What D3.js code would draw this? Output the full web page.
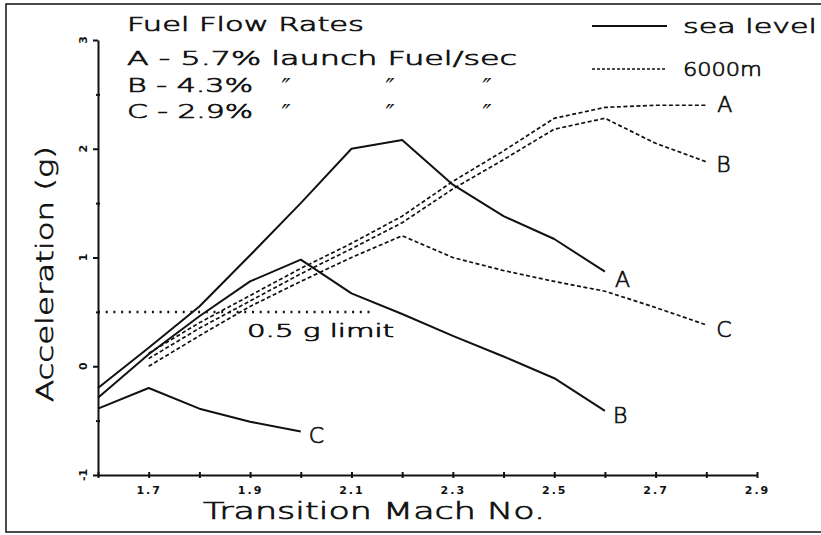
<!DOCTYPE html>
<html>
<head>
<meta charset="utf-8">
<script src="https://cdn.jsdelivr.net/npm/d3@7"></script>
<style>
  html, body { margin: 0; padding: 0; background: #fff; }
  svg { display: block; }
  text { font-family: "DejaVu Sans", sans-serif; fill: #111; }
  text.thin { font-weight: 200; stroke: #111; stroke-width: 0.7px; }
</style>
</head>
<body>
<svg id="chart" width="821" height="535"></svg>
<script>
// Transition Mach number (x) for each curve
const machSea = [1.6, 1.7, 1.8, 1.9, 2.0, 2.1, 2.2, 2.3, 2.4, 2.5, 2.6];
const machSeaC = [1.6, 1.7, 1.8, 1.9, 2.0];
const mach6000 = [1.7, 1.8, 1.9, 2.0, 2.1, 2.2, 2.3, 2.4, 2.5, 2.6, 2.7, 2.8];

// Acceleration (g), sea level
const seaA = [-0.2, 0.17, 0.55, 1.02, 1.5, 2.0, 2.08, 1.67, 1.38, 1.17, 0.87];
const seaB = [-0.29, 0.11, 0.46, 0.78, 0.98, 0.67, 0.48, 0.28, 0.09, -0.11, -0.41];
const seaC = [-0.39, -0.2, -0.39, -0.51, -0.6];

// Acceleration (g), 6000 m
const altA = [0.12, 0.4, 0.65, 0.9, 1.13, 1.38, 1.7, 1.98, 2.28, 2.38, 2.4, 2.4];
const altB = [0.07, 0.35, 0.6, 0.85, 1.08, 1.32, 1.63, 1.9, 2.18, 2.28, 2.05, 1.88];
const altC = [0.0, 0.28, 0.55, 0.78, 1.0, 1.2, 1.0, 0.88, 0.78, 0.69, 0.54, 0.38];

// 0.5 g limit
const limitValue = 0.5;
const limitMach = [1.6, 2.14];

// Axes
const xDomain = [1.6, 2.9];
const yDomain = [-1, 3];
const xTickLabels = ["1.7", "1.9", "2.1", "2.3", "2.5", "2.7", "2.9"];
const yTickLabels = ["-1", "0", "1", "2", "3"];
const xMinorTicks = [1.6, 1.7, 1.8, 1.9, 2.0, 2.1, 2.2, 2.3, 2.4, 2.5, 2.6, 2.7, 2.8, 2.9];
const yMinorTicks = [-0.5, 0.5, 1.5, 2.5];

// Legend text
const legendTitle = "Fuel Flow Rates";
const rateRows = ["A - 5.7% launch Fuel/sec", "B - 4.3%", "C - 2.9%"];
const altitudeNames = ["sea level", "6000m"];

const svg = d3.select("#chart");
const W = 821, H = 535;

const x = d3.scaleLinear().domain(xDomain).range([98, 757]);
const y = d3.scaleLinear().domain(yDomain).range([475, 40]);

// stretch a text to a fixed width, widening its glyphs
function fit(sel, len) {
  return sel.attr("class", "thin").attr("textLength", len).attr("lengthAdjust", "spacingAndGlyphs");
}

// outer frame
svg.append("rect")
  .attr("x", 6).attr("y", 4).attr("width", W + 4).attr("height", 528)
  .attr("fill", "none").attr("stroke", "#111").attr("stroke-width", 1.5);

// x axis: small ticks at every 0.1
const gx = svg.append("g").attr("transform", `translate(0,${y(yDomain[0])})`);
gx.call(d3.axisBottom(x).tickValues(xMinorTicks).tickSize(3).tickSizeOuter(0).tickFormat(""));
gx.select(".domain").attr("stroke", "#111").attr("stroke-width", 2);
gx.selectAll(".tick line").attr("stroke", "#111").attr("stroke-width", 2).attr("y1", -3);

// x tick labels
const gxl = svg.append("g").attr("transform", `translate(0,${y(yDomain[0])})`);
gxl.call(d3.axisBottom(x).tickValues(xTickLabels.map(Number)).tickSize(0)
  .tickFormat((d, i) => xTickLabels[i]));
gxl.select(".domain").remove();
gxl.selectAll(".tick text")
  .attr("y", 19).attr("dy", 0)
  .style("font-family", "'DejaVu Sans', sans-serif")
  .style("font-size", "11px").style("font-weight", "bold")
  .style("letter-spacing", "2px").attr("fill", "#111");

// y axis
const gy = svg.append("g").attr("transform", `translate(${x(xDomain[0])},0)`);
gy.call(d3.axisLeft(y).tickValues(yTickLabels.map(Number)).tickSize(5).tickSizeOuter(0).tickFormat(""));
gy.select(".domain").attr("stroke", "#111").attr("stroke-width", 2);
gy.selectAll(".tick line").attr("stroke", "#111").attr("stroke-width", 2);
const gym = svg.append("g").attr("transform", `translate(${x(xDomain[0])},0)`);
gym.call(d3.axisLeft(y).tickValues(yMinorTicks).tickSize(2).tickFormat(""));
gym.select(".domain").remove();
gym.selectAll(".tick line").attr("stroke", "#111").attr("stroke-width", 2).attr("x2", 2).attr("x1", -2);

// y tick labels, rotated
svg.append("g").selectAll("text").data(yTickLabels).join("text")
  .attr("transform", d => `translate(87,${y(+d)}) rotate(-90)`)
  .attr("text-anchor", "middle")
  .style("font-size", "11px").style("font-weight", "bold")
  .text(d => d);

// axis titles
fit(svg.append("text")
  .attr("x", 374).attr("y", 519).attr("text-anchor", "middle")
  .style("font-size", "23px")
  .text("Transition Mach No."), 342);
fit(svg.append("text")
  .attr("transform", "translate(53,274) rotate(-90)")
  .attr("text-anchor", "middle")
  .style("font-size", "23px")
  .text("Acceleration (g)"), 256);

// curves
const line = d3.line().x(d => x(d[0])).y(d => y(d[1]));
const series = [
  { mach: machSea, val: seaA, label: "A", dashed: false, off: [10, 15] },
  { mach: machSea, val: seaB, label: "B", dashed: false, off: [8, 12] },
  { mach: machSeaC, val: seaC, label: "C", dashed: false, off: [8, 11] },
  { mach: mach6000, val: altA, label: "A", dashed: true, off: [11, 7] },
  { mach: mach6000, val: altB, label: "B", dashed: true, off: [10, 10] },
  { mach: mach6000, val: altC, label: "C", dashed: true, off: [10, 12] }
];

series.forEach(s => {
  const pts = s.mach.map((m, i) => [m, s.val[i]]);
  svg.append("path")
    .attr("d", line(pts))
    .attr("fill", "none")
    .attr("stroke", "#111")
    .attr("stroke-width", s.dashed ? 1.7 : 2)
    .attr("stroke-linejoin", "round")
    .attr("stroke-dasharray", s.dashed ? "4 2.5" : null);
  const last = pts[pts.length - 1];
  svg.append("text")
    .attr("class", "thin")
    .attr("x", x(last[0]) + s.off[0])
    .attr("y", y(last[1]) + s.off[1])
    .style("font-size", "22px")
    .text(s.label);
});

// 0.5 g limit
svg.append("line")
  .attr("x1", x(limitMach[0])).attr("x2", x(limitMach[1]))
  .attr("y1", y(limitValue)).attr("y2", y(limitValue))
  .attr("stroke", "#111").attr("stroke-width", 2.5)
  .attr("stroke-dasharray", "2 5.7");
fit(svg.append("text")
  .attr("x", 247).attr("y", 337)
  .style("font-size", "17px")
  .text("0.5 g limit"), 147);

// fuel flow legend
fit(svg.append("text")
  .attr("x", 127).attr("y", 31)
  .style("font-size", "19px")
  .text(legendTitle), 237);
const rowY = [65, 92, 118];
const rowLen = [390, 126, 126];
rateRows.forEach((r, i) => {
  fit(svg.append("text")
    .attr("x", 127).attr("y", rowY[i])
    .style("font-size", "19px")
    .text(r), rowLen[i]);
});
// ditto marks under "launch Fuel/sec"
[1, 2].forEach(i => {
  [286, 390, 487].forEach(cx => {
    svg.append("text")
      .attr("x", cx).attr("y", rowY[i] + 4)
      .attr("text-anchor", "middle")
      .style("font-size", "24px").style("font-style", "italic")
      .text("\u2033");
  });
});

// altitude legend
const altY = [26, 69];
altitudeNames.forEach((name, i) => {
  svg.append("line")
    .attr("x1", 592).attr("x2", 667)
    .attr("y1", altY[i]).attr("y2", altY[i])
    .attr("stroke", "#111")
    .attr("stroke-width", i === 0 ? 2 : 1.5)
    .attr("stroke-dasharray", i === 0 ? null : "3 2");
  fit(svg.append("text")
    .attr("x", 683).attr("y", altY[i] + 7)
    .style("font-size", "20px")
    .text(name), i === 0 ? 134 : 79);
});
</script>
</body>
</html>
